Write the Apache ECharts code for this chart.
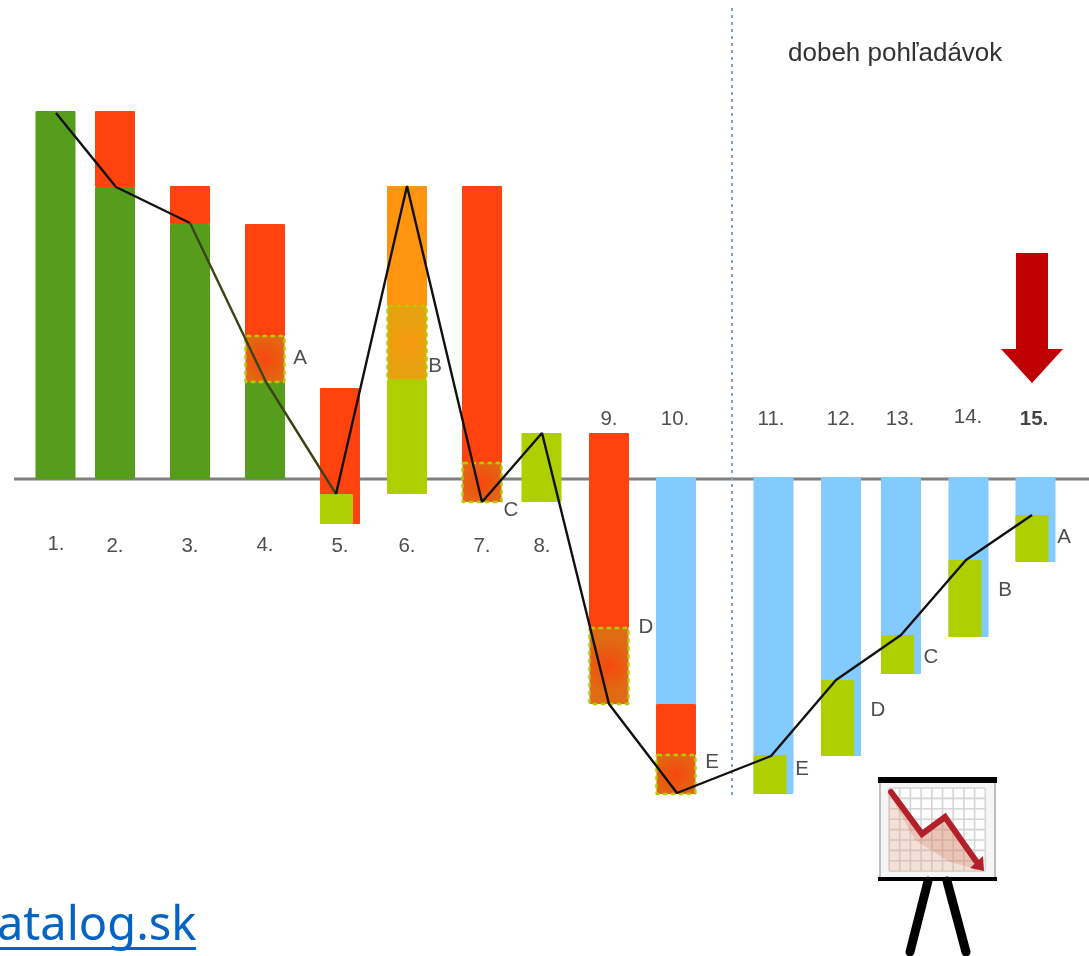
<!DOCTYPE html>
<html><head><meta charset="utf-8">
<style>html,body{margin:0;padding:0;background:#fff}#c{width:1089px;height:956px}</style>
<script src="https://cdn.jsdelivr.net/npm/echarts@6/dist/echarts.min.js"></script>
</head><body><div id="c"></div>
<script>
const barX = [55.5,115,190,265,340,407,482,541.5,609,676,773.5,841,901,968.5,1035.5];
const greenSegments = [[0,0,368],[1,0,292],[2,0,255],[3,0,97]];
const redSegments = [[1,292,368],[2,255,293],[3,143,255],[4,-45,91],[6,16,293],[8,-149,46],[9,-276,-225]];
const orangeSegments = [[5,173,293]];
const limeSegments = [[5,-15,99],[7,-23,46]];
const blueSegments = [[9,-225,2],[10,-315,2],[11,-277,2],[12,-195,2],[13,-158,2],[14,-83,2]];
const limeInsetSegments = [[4,-45,-15],[10,-315,-276],[11,-277,-201],[12,-195,-156],[13,-158,-81],[14,-83,-36]];
const dashedRedSegments = [[3,97,143],[6,-23,16],[8,-225,-149],[9,-315,-276]];
const dashedOrangeSegments = [[5,99,173]];
const trendX = [56,116,190,266,336,407,482,542,609,677,771,836,901,966,1032];
const trendY = [366,292,256,97,-15,293,-23,46,-225,-314,-277,-201,-156,-81,-36];
const rankLabels = ['1.','2.','3.','4.','5.','6.','7.','8.','9.','10.','11.','12.','13.','14.','15.'];
const rankX = [56,115,190,265,340,407,482,542,609,675,771,841,900,968,1034];
const rankY = [-65,-67,-67,-66,-67,-67,-67,-67,60,60,60,60,60,62,60];
const letterLabels = ['A','B','C','D','E','E','D','C','B','A'];
const letterX = [300,435,511,646,712,802,878,931,1005,1064];
const letterY = [121,113,-31,-148,-283,-290,-231,-178,-111,-58];
const dividerX = [732,732];
const dividerY = [471,-320];
const baselineX = [14,1089];
const baselineY = [0,0];
const headline = 'dobeh pohľadávok';
const linkText = 'atalog.sk';

const chart = echarts.init(document.getElementById('c'), null, {renderer:'canvas'});
const G = echarts.graphic;
function barSeries(data, fill, opt){
  opt = opt || {};
  return {type:'custom', silent:true, z:opt.z||3, data,
    renderItem(p, api){
      const i = api.value(0), c = barX[i];
      const w = opt.width||40, left = opt.inset ? c-20 : c-w/2;
      const a = api.coord([left, api.value(2)]), b = api.coord([left+w, api.value(1)]);
      return {type:'rect', shape:{x:a[0],y:a[1],width:b[0]-a[0],height:b[1]-a[1],r:1},
        style:{fill, stroke:opt.stroke||null, lineWidth:opt.stroke?2.4:0, lineDash:opt.stroke?[4.5,3.5]:null}};
    }};
}
const radialRed = new G.RadialGradient(.5,.5,.65,[{offset:0,color:'#f6480f'},{offset:1,color:'#df6c12'}]);
const radialOrange = new G.RadialGradient(.5,.5,.65,[{offset:0,color:'#f79a0e'},{offset:1,color:'#e8a20f'}]);
function poly(points, fill, z){return {type:'polygon',z:z||10,silent:true,shape:{points},style:{fill}};}
function seg(x1,y1,x2,y2,stroke,w,cap){return {type:'line',z:11,silent:true,shape:{x1,y1,x2,y2},style:{stroke,lineWidth:w,lineCap:cap||'butt'}};}
const easel = [];
easel.push({type:'rect',z:10,silent:true,shape:{x:880,y:782,width:115,height:96},style:{fill:'#f5f5f5',stroke:'#bdbdbd',lineWidth:2}});
easel.push({type:'rect',z:10,silent:true,shape:{x:889,y:788,width:96,height:83},style:{fill:'#fdfdfd'}});
for(let i=0;i<=9;i++) easel.push(seg(889+i*10.7,788,889+i*10.7,871,'#d4d4d4',1.6));
for(let i=0;i<=8;i++) easel.push(seg(889,788+i*10.4,985,788+i*10.4,'#d4d4d4',1.6));
easel.push({type:'polygon',z:11,silent:true,shape:{points:[[889,793],[922,834],[945,817],[984,871],[889,871]]},style:{fill:'rgba(226,160,130,0.3)'}});
easel.push({type:'polygon',z:11,silent:true,shape:{points:[[889,793],[922,834],[945,817],[984,871],[950,862],[915,840]]},style:{fill:'rgba(205,110,80,0.25)'}});
easel.push({type:'polyline',z:12,silent:true,shape:{points:[[891,792],[922,834],[945,817],[976,861]]},style:{stroke:'#b3202a',lineWidth:6,fill:null,lineCap:'round',lineJoin:'miter'}});
easel.push(poly([[984,871],[970,868],[983,856]],'#b3202a',12));
easel.push({type:'rect',z:13,silent:true,shape:{x:878,y:777,width:119,height:6},style:{fill:'#000'}});
easel.push({type:'rect',z:13,silent:true,shape:{x:878,y:877,width:119,height:4},style:{fill:'#000'}});
easel.push(seg(928,881,910,952,'#000',9,'round'));
easel.push(seg(947,881,966,952,'#000',9,'round'));

const textSeries = (xs,ys,labels,fmt) => ({type:'scatter',symbolSize:0.01,silent:true,z:6,
  data:xs.map((x,i)=>[x,ys[i],labels[i]]),
  label:{show:true,position:'inside',formatter:fmt||(p=>p.data[2]),fontFamily:'Liberation Sans',fontSize:20.5,color:'#222',
    rich:{b:{fontWeight:'bold',fontFamily:'Liberation Sans',fontSize:20.5,color:'#111'}}}});
function trendSeries(from,to,color){
  const data=[];for(let i=from;i<=to;i++)data.push([trendX[i],trendY[i]]);
  return {type:'line',silent:true,z:5,symbol:'none',data,lineStyle:{color,width:2.4}};
}
chart.setOption({
  animation:false,
  grid:{left:0,right:0,top:0,bottom:0},
  xAxis:{type:'value',min:0,max:1089,show:false},
  yAxis:{type:'value',min:-477,max:479,show:false},
  series:[
    {type:'line',silent:true,z:1,symbol:'none',data:baselineX.map((x,i)=>[x,baselineY[i]]),lineStyle:{color:'#808080',width:3}},
    {type:'line',silent:true,z:1,symbol:'none',data:dividerX.map((x,i)=>[x,dividerY[i]]),lineStyle:{color:'#86a1c6',width:2,type:[3,4]}},
    barSeries(greenSegments,'#579d1c'),
    barSeries(redSegments,'#ff420e'),
    barSeries(orangeSegments,'#ff950e'),
    barSeries(limeSegments,'#aecf00'),
    barSeries(blueSegments,'#83caff'),
    barSeries(limeInsetSegments,'#aecf00',{width:33,inset:true,z:4}),
    barSeries(dashedRedSegments,radialRed,{stroke:'#aecf00',width:39,z:4}),
    barSeries(dashedOrangeSegments,radialOrange,{stroke:'#aecf00',width:39,z:4}),
    trendSeries(0,2,'#111'),
    trendSeries(2,4,'#3a4414'),
    trendSeries(4,14,'#111'),
    textSeries(rankX,rankY,rankLabels,p=>p.data[2]==='15.'?'{b|15.}':p.data[2]),
    textSeries(letterX,letterY,letterLabels)
  ],
  graphic:[
    {type:'text',silent:true,x:788,y:41,style:{text:headline,fontFamily:'Liberation Sans',fontSize:26,fill:'#333'}},
    {type:'text',silent:true,x:-3,y:903,style:{text:linkText,fontFamily:'Noto Sans',fontSize:47,fill:'#0563c1'}},
    {type:'rect',silent:true,shape:{x:0,y:947,width:196,height:3},style:{fill:'#0563c1'}},
    poly([[1016,253],[1048,253],[1048,349],[1063,349],[1032,383],[1001,349],[1016,349]],'#c00000'),
    ...easel
  ]
});
</script></body></html>
